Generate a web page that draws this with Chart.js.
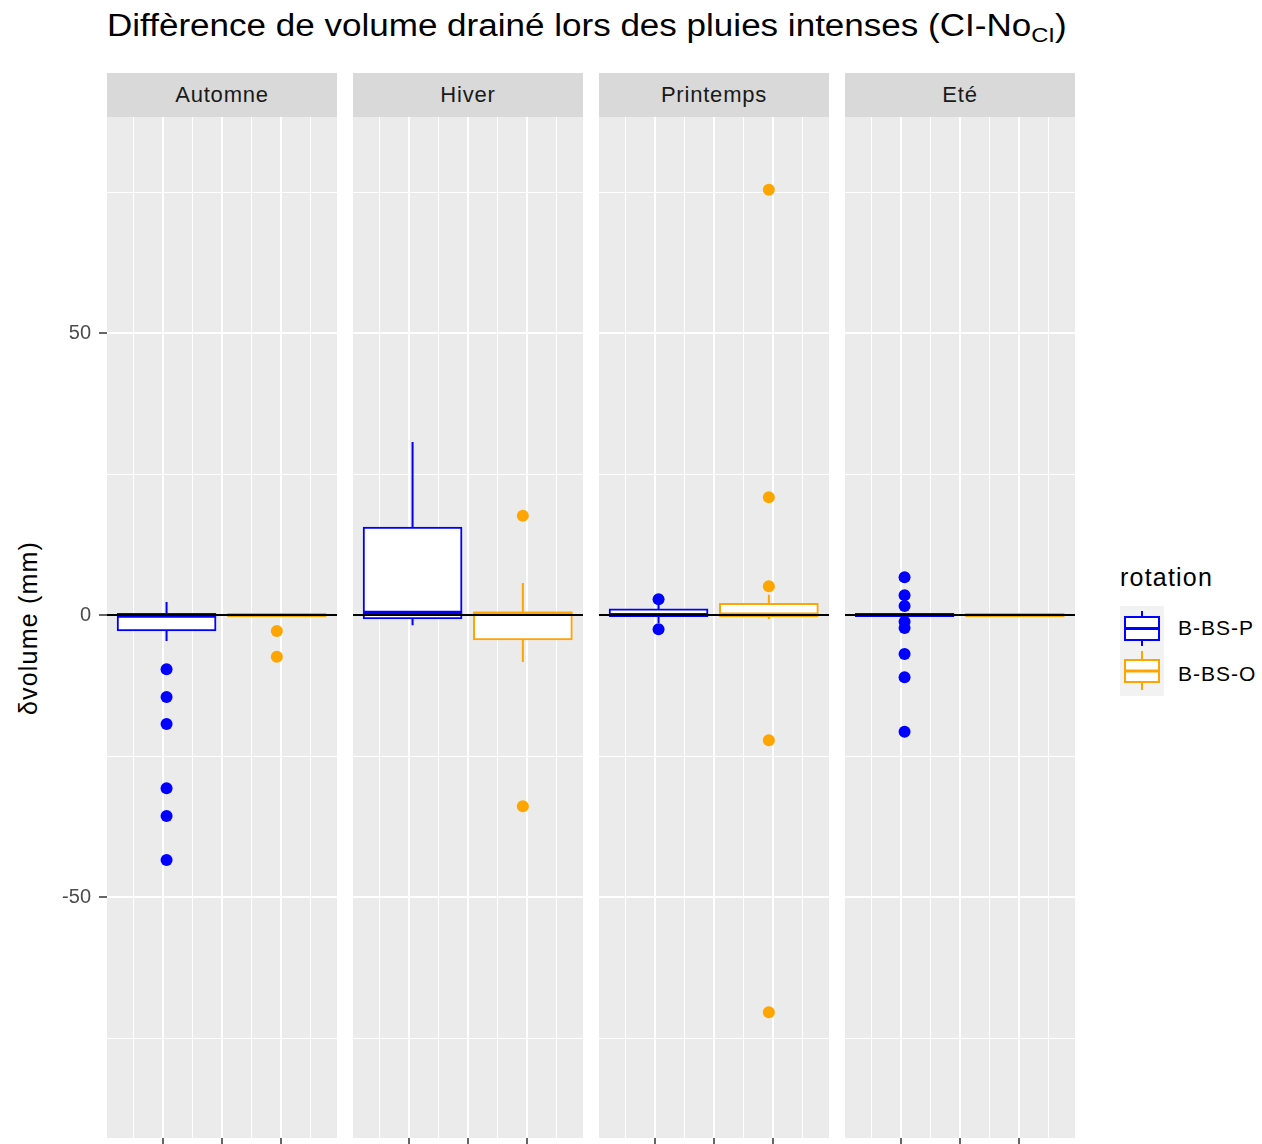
<!DOCTYPE html>
<html>
<head>
<meta charset="utf-8">
<script src="https://cdn.jsdelivr.net/npm/chart.js@4.4.1/dist/chart.umd.min.js"></script>
<style>
  body { margin: 0; width: 1262px; height: 1144px; overflow: hidden; background: #fff; position: relative;
         font-family: "Liberation Sans", Arial, sans-serif; color: #000; }
  .abs { position: absolute; }
  #title { left: 107px; top: 6px; font-size: 31px; line-height: 40px; white-space: nowrap; transform-origin: left center; transform: scaleX(1.13); }
  #title sub { font-size: 21px; vertical-align: -6px; line-height: 0; }
  .strip { top: 73px; width: 230px; height: 44px; background: #d9d9d9; color: #1a1a1a; font-size: 22px; line-height: 44px; text-align: center; letter-spacing: 0.8px; }
  #ytitle { left: 28px; top: 628px; font-size: 25px; letter-spacing: 1.2px; white-space: nowrap; transform: translate(-50%, -50%) rotate(-90deg); }
  #legtitle { left: 1120px; top: 562px; font-size: 25px; line-height: 30px; letter-spacing: 1.2px; }
  .leglab { left: 1178px; font-size: 21px; line-height: 30px; letter-spacing: 1px; }
</style>
</head>
<body>
<div id="title" class="abs">Diffèrence de volume drainé lors des pluies intenses (CI-No<sub>CI</sub>)</div>
<div id="ytitle" class="abs">δvolume (mm)</div>
<div id="legtitle" class="abs">rotation</div>
<svg class="abs" style="left:1118px;top:604px" width="48" height="94">
  <rect x="2" y="2" width="44" height="90" fill="#f2f2f2"/>
  <g fill="#fff" stroke="#0000ff" stroke-width="2">
    <line x1="24" y1="7" x2="24" y2="13"/>
    <line x1="24" y1="36" x2="24" y2="42"/>
    <rect x="7" y="13" width="34" height="23"/>
    <line x1="7" y1="24.5" x2="41" y2="24.5" stroke-width="3"/>
  </g>
  <g fill="#fff" stroke="#ffa500" stroke-width="2">
    <line x1="24" y1="47" x2="24" y2="56"/>
    <line x1="24" y1="78" x2="24" y2="86"/>
    <rect x="7" y="56" width="34" height="22"/>
    <line x1="7" y1="67" x2="41" y2="67" stroke-width="3"/>
  </g>
</svg>
<div class="abs leglab" style="top:613px">B-BS-P</div>
<div class="abs leglab" style="top:659px">B-BS-O</div>

<script>
const seasons = ["Automne", "Hiver", "Printemps", "Eté"];
const rotations = ["B-BS-P", "B-BS-O"];
const rotationColors = ["#0000ff", "#ffa500"];

// per season: [lower whisker, q1, median, q3, upper whisker]
const boxBBSP = [
  [-4.6, -2.8, 0, 0, 2.3],
  [-1.8, -0.7, 0.4, 15.6, 30.7],
  [-1.4, -0.2, 0, 1.1, 1.8],
  [0, 0, 0, 0, 0]
];
const boxBBSO = [
  [0, 0, 0, 0, 0],
  [-8.3, -4.4, 0.3, 0.5, 5.7],
  [-0.7, 0, 0, 2.1, 3.6],
  [0, 0, 0, 0, 0]
];
const outliersBBSP = [
  [-9.6, -14.5, -19.3, -30.7, -35.6, -43.4],
  [],
  [2.8, -2.5],
  [6.7, 3.5, 1.6, -1.2, -2.3, -6.9, -11, -20.7]
];
const outliersBBSO = [
  [-2.8, -7.4],
  [17.6, -33.9],
  [75.4, 20.9, 5.1, -22.2, -70.4],
  []
];

const yTicks = [-75, -50, -25, 0, 25, 50, 75];
const xTicks = [0.5, 1, 1.5, 2, 2.5, 3, 3.5];

const boxes = [boxBBSP, boxBBSO];
const outliers = [outliersBBSP, outliersBBSO];
const dodge = [1.06, 2.93];
const halfWidth = 0.84;
const xMin = 0.05, xMax = 3.95;
const yMin = -92.7, yMax = 88.3;
const panelLeft = [107, 353, 599, 845];
const font = "Liberation Sans";

const isMajorY = v => v % 50 === 0;

const buildDatasets = (i) => {
  const sets = [{
    type: "line",
    order: 0,
    data: [{x: xMin, y: 0}, {x: xMax, y: 0}],
    borderColor: "#000",
    borderWidth: 2,
    pointRadius: 0
  }];
  rotations.forEach((rot, r) => {
    const [lo, q1, med, q3, hi] = boxes[r][i];
    const c = dodge[r];
    sets.push({
      type: "scatter",
      order: 1,
      data: outliers[r][i].map(v => ({x: c, y: v})),
      pointRadius: 6,
      pointBackgroundColor: rotationColors[r],
      pointBorderWidth: 0
    });
    sets.push({
      type: "line",
      order: 2,
      data: [{x: c - halfWidth, y: med}, {x: c + halfWidth, y: med}],
      borderColor: rotationColors[r],
      borderWidth: 4,
      pointRadius: 0
    });
    sets.push({
      type: "line",
      order: 3,
      data: [{x: c, y: q3}, {x: c, y: hi}, {x: c, y: null}, {x: c, y: q1}, {x: c, y: lo}],
      borderColor: rotationColors[r],
      borderWidth: 2,
      pointRadius: 0,
      spanGaps: false
    });
  });
  sets.push({
    type: "bar",
    order: 4,
    data: rotations.map((_, r) => ({x: dodge[r], y: [boxes[r][i][1], boxes[r][i][3]]})),
    backgroundColor: "#fff",
    borderColor: rotationColors,
    borderWidth: 2,
    borderSkipped: false,
    barThickness: 99
  });
  return sets;
};

const makePanel = (i) => {
  const first = i === 0;
  const strip = document.createElement("div");
  strip.className = "abs strip";
  strip.style.left = panelLeft[i] + "px";
  strip.textContent = seasons[i];
  document.body.appendChild(strip);

  const canvas = document.createElement("canvas");
  const left = first ? 0 : panelLeft[i];
  const width = first ? panelLeft[i] + 230 : 230;
  canvas.width = width;
  canvas.height = 1027;
  canvas.className = "abs";
  canvas.style.left = left + "px";
  canvas.style.top = "117px";
  document.body.appendChild(canvas);

  new Chart(canvas, {
    type: "scatter",
    data: {datasets: buildDatasets(i)},
    options: {
      responsive: false,
      animation: false,
      events: [],
      layout: {padding: 0, autoPadding: false},
      plugins: {legend: {display: false}, tooltip: {enabled: false}},
      scales: {
        x: {
          type: "linear",
          min: xMin,
          max: xMax,
          offset: false,
          afterBuildTicks: s => { s.ticks = xTicks.map(v => ({value: v})); },
          afterFit: s => { s.height = 6; s.paddingLeft = 0; s.paddingRight = 0; },
          border: {display: false},
          grid: {
            offset: false,
            color: "#fff",
            lineWidth: c => (c.tick && Number.isInteger(c.tick.value)) ? 2 : 1,
            drawTicks: true,
            tickLength: 6,
            tickWidth: 1.5,
            tickColor: c => (c.tick && Number.isInteger(c.tick.value)) ? "#333" : "rgba(0,0,0,0)"
          },
          ticks: {display: false}
        },
        y: {
          type: "linear",
          min: yMin,
          max: yMax,
          afterBuildTicks: s => { s.ticks = yTicks.map(v => ({value: v})); },
          afterFit: s => {
            s.width = first ? panelLeft[0] : 0;
            s.paddingTop = 0;
            s.paddingBottom = 0;
          },
          border: {display: false},
          grid: {
            color: "#fff",
            lineWidth: c => (c.tick && isMajorY(c.tick.value)) ? 2 : 1,
            drawTicks: first,
            tickLength: 8,
            tickWidth: 1.5,
            tickColor: c => (c.tick && isMajorY(c.tick.value)) ? "#333" : "rgba(0,0,0,0)"
          },
          ticks: {
            display: first,
            padding: 8,
            color: "#4d4d4d",
            font: {family: font, size: 20},
            callback: v => isMajorY(v) ? v : ""
          }
        }
      }
    },
    plugins: [{
      id: "panelBg",
      beforeDraw: (chart) => {
        const {ctx, chartArea: a} = chart;
        ctx.save();
        ctx.fillStyle = "#ebebeb";
        ctx.fillRect(a.left, a.top, a.right - a.left, a.bottom - a.top);
        ctx.restore();
      }
    }]
  });
};

seasons.forEach((_, i) => makePanel(i));
</script>
</body>
</html>
